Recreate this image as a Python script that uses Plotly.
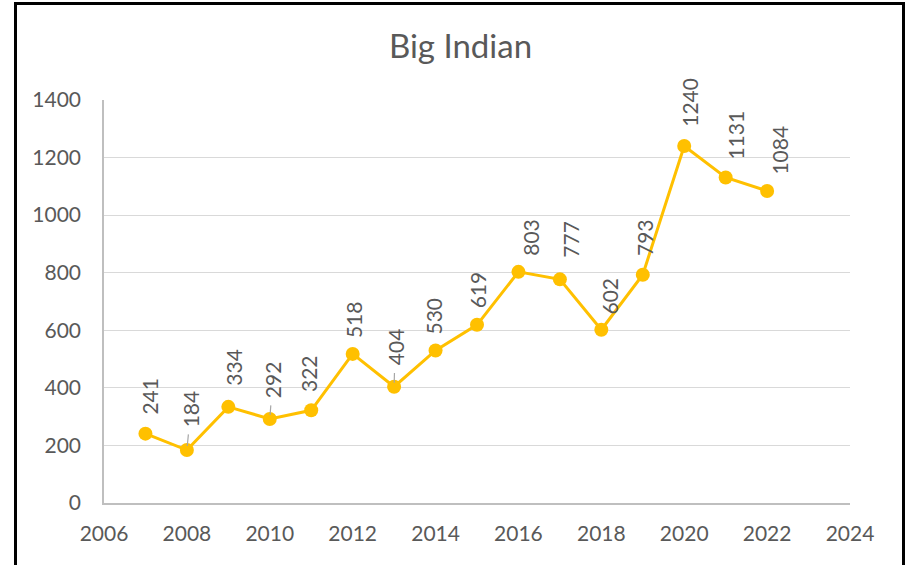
import plotly.graph_objects as go

years = [2007, 2008, 2009, 2010, 2011, 2012, 2013, 2014, 2015, 2016, 2017, 2018, 2019, 2020, 2021, 2022]
values = [241, 184, 334, 292, 322, 518, 404, 530, 619, 803, 777, 602, 793, 1240, 1131, 1084]
x_ticks = [2006, 2008, 2010, 2012, 2014, 2016, 2018, 2020, 2022, 2024]
y_ticks = [0, 200, 400, 600, 800, 1000, 1200, 1400]
title = "Big Indian"

# label placement style (pixel offsets: horizontal shift, gap above point, leader line flag)
label_dx = [4, 4, 5, 3, -2, 1, 1, -2, 0, 12, 11, 8, 1, 5, 10, 12]
label_gap = [17, 23, 19, 21, 16, 14, 21, 14, 14, 14, 20, 13, 17, 17, 16, 14]
label_leader = [False, True, False, True, False, False, True, False, False, False, False, False, False, False, False, False]

FONT = "Lato"
GREY = "#595959"
GOLD = "#FFC000"
W, H = 911, 565
L, R, T, B = 104, 61, 100, 62
PW, PH = W - L - R, H - T - B

fig = go.Figure()
fig.add_trace(go.Scatter(
    x=years, y=values, mode="lines+markers",
    line=dict(color=GOLD, width=3),
    marker=dict(color=GOLD, size=14),
    hoverinfo="x+y",
))

annotations = []
for x, v, dx, gap, lead in zip(years, values, label_dx, label_gap, label_leader):
    txt = str(v)
    if lead:
        half = len(txt) * 6.2
        annotations.append(dict(
            x=x, y=v, xref="x", yref="y", text=txt, textangle=-90,
            font=dict(family=FONT, size=21, color=GREY),
            showarrow=True, arrowhead=0, arrowwidth=1.2, arrowcolor="#a6a6a6",
            ax=dx, ay=-(gap + half), standoff=4, startstandoff=6,
        ))
    else:
        annotations.append(dict(
            x=x, y=v, xref="x", yref="y", text=txt, textangle=-90,
            font=dict(family=FONT, size=21, color=GREY),
            showarrow=False, xanchor="center", yanchor="bottom",
            xshift=dx, yshift=gap,
        ))

fig.update_layout(
    width=W, height=H,
    margin=dict(l=L, r=R, t=T, b=B),
    paper_bgcolor="white", plot_bgcolor="white",
    showlegend=False,
    title=dict(text=title, x=460.5 / W, xref="container", xanchor="center",
               y=1 - 46.5 / H, yref="container", yanchor="middle",
               font=dict(family=FONT, size=33, color=GREY)),
    annotations=annotations,
    font=dict(family=FONT, color=GREY),
    shapes=[dict(type="rect", xref="paper", yref="paper",
                 x0=(15.5 - L) / PW, x1=(903.5 - L) / PW,
                 y0=(H - B - 600) / PH, y1=(H - B - 3.5) / PH,
                 line=dict(color="black", width=3), fillcolor="rgba(0,0,0,0)", layer="above")],
)
fig.update_xaxes(range=[2006, 2024], tickvals=x_ticks, ticktext=[str(t) for t in x_ticks],
                 showgrid=False, zeroline=False, showline=True, linecolor="#bfbfbf", linewidth=1.5,
                 ticks="", ticklabelstandoff=11, tickfont=dict(family=FONT, size=21, color=GREY))
fig.update_yaxes(range=[0, 1400], tickvals=y_ticks, showgrid=True, gridcolor="#d9d9d9", gridwidth=1,
                 zeroline=False, showline=True, linecolor="#bfbfbf", linewidth=1.5,
                 ticks="", ticklabelstandoff=17, tickfont=dict(family=FONT, size=21, color=GREY))

fig.write_html("out.html", config={"displayModeBar": False},
               post_script="document.body.style.margin='0';")
